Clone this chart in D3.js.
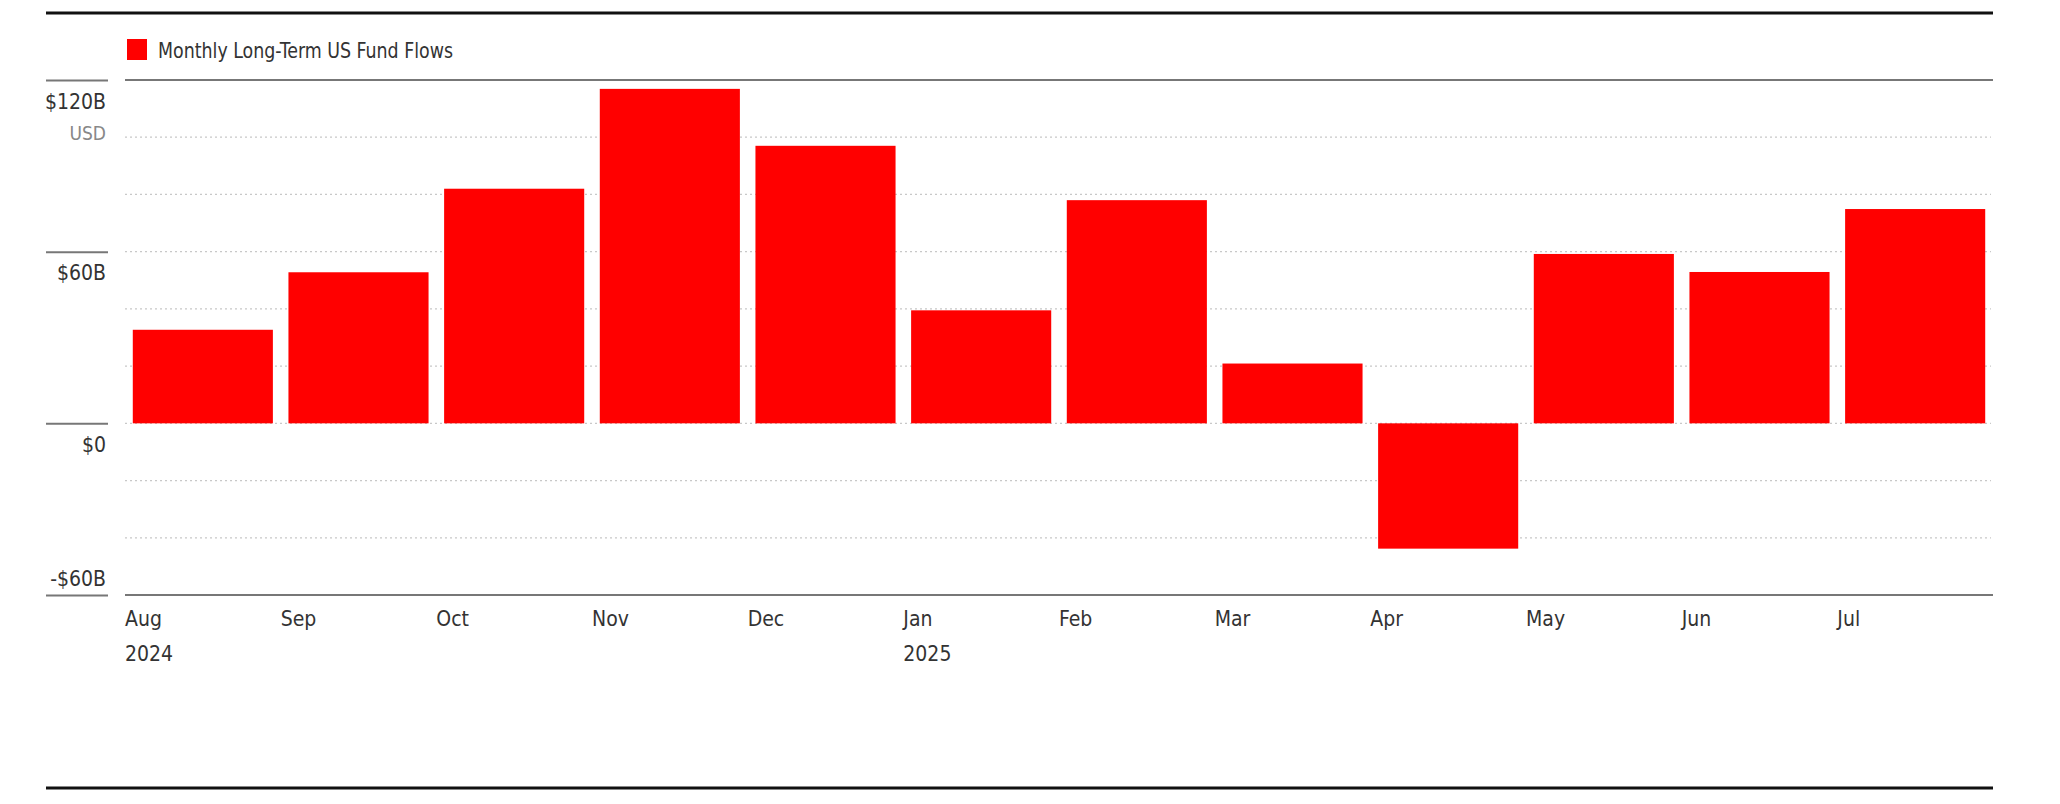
<!DOCTYPE html>
<html>
<head>
<meta charset="utf-8">
<script src="https://cdn.jsdelivr.net/npm/d3@7"></script>
<style>
  html, body { margin: 0; padding: 0; background: #fff; }
  svg { display: block; }
  text { font-family: "Liberation Sans Narrow", "DejaVu Sans Condensed", "Roboto", sans-serif; }
</style>
</head>
<body>
<script>
// ---- data ----
const months = ["Aug", "Sep", "Oct", "Nov", "Dec", "Jan", "Feb", "Mar", "Apr", "May", "Jun", "Jul"];
const yearLabels = ["2024", "", "", "", "", "2025", "", "", "", "", "", ""];
const flows = [32.7, 52.8, 82.0, 116.9, 97.0, 39.5, 78.0, 20.9, -43.8, 59.2, 52.9, 74.9];
const seriesName = "Monthly Long-Term US Fund Flows";
const yTickValues = [120, 60, 0, -60];
const yTickLabels = ["$120B", "$60B", "$0", "-$60B"];
const gridValues = [100, 80, 60, 40, 20, 0, -20, -40];
const unitLabel = "USD";

// ---- layout ----
const W = 2060, H = 804;
const plotLeft = 125, plotRight = 1993, plotTop = 80, plotBottom = 595;
const fontSize = 21;

const svg = d3.select("body").append("svg").attr("width", W).attr("height", H);

const x = d3.scaleBand().domain(months).range([plotLeft, plotRight])
  .paddingInner(0.1).paddingOuter(0.05);
const y = d3.scaleLinear().domain([-60, 120]).range([plotBottom, plotTop]);

// header / footer rules
svg.append("line").attr("x1", 46).attr("x2", 1993).attr("y1", 13).attr("y2", 13)
  .attr("stroke", "#111").attr("stroke-width", 3);
svg.append("line").attr("x1", 46).attr("x2", 1993).attr("y1", 788).attr("y2", 788)
  .attr("stroke", "#111").attr("stroke-width", 3);

// legend
svg.append("rect").attr("x", 127).attr("y", 39).attr("width", 20).attr("height", 21).attr("fill", "#ff0000");
svg.append("text").attr("x", 158).attr("y", 50).attr("dominant-baseline", "central")
  .attr("font-size", 22).attr("fill", "#333")
  .attr("textLength", 295).attr("lengthAdjust", "spacingAndGlyphs")
  .text(seriesName);

// dotted gridlines
svg.append("g").selectAll("line").data(gridValues).join("line")
  .attr("x1", plotLeft).attr("x2", plotRight - 2)
  .attr("y1", d => y(d)).attr("y2", d => y(d))
  .attr("stroke", "#c8c8c8").attr("stroke-width", 1.3).attr("stroke-dasharray", "2,3");

// solid top / bottom lines of plot
[120, -60].forEach(v => {
  svg.append("line").attr("x1", plotLeft).attr("x2", plotRight)
    .attr("y1", y(v)).attr("y2", y(v)).attr("stroke", "#777").attr("stroke-width", 2);
});

// left y-axis: short tick rules and labels
const yAxis = d3.axisLeft(y).tickValues(yTickValues)
  .tickSize(62).tickFormat((d, i) => yTickLabels[i]);
const gy = svg.append("g").attr("transform", `translate(${108},0)`).call(yAxis);
gy.select(".domain").remove();
gy.selectAll(".tick line").attr("stroke", "#777").attr("stroke-width", 2);
gy.selectAll(".tick text")
  .attr("x", -2)
  .attr("dy", null)
  .attr("y", d => d === -60 ? -17 : 21)
  .attr("dominant-baseline", "central")
  .attr("text-anchor", "end")
  .attr("font-size", fontSize)
  .attr("fill", "#333");
svg.append("text").attr("x", 106).attr("y", y(120) + 53).attr("dominant-baseline", "central")
  .attr("text-anchor", "end").attr("font-size", 19).attr("fill", "#888").text(unitLabel);

// bars
svg.append("g").selectAll("rect").data(flows).join("rect")
  .attr("x", (d, i) => x(months[i]))
  .attr("width", x.bandwidth())
  .attr("y", d => y(Math.max(0, d)))
  .attr("height", d => Math.abs(y(d) - y(0)))
  .attr("fill", "#ff0000");

// x axis labels (left-aligned at each month slot start)
const off = x.bandwidth() / 2 + x.step() * x.paddingOuter();
const xAxis = d3.axisBottom(x).tickSize(0);
const gx = svg.append("g").attr("transform", `translate(0,${plotBottom})`).call(xAxis);
gx.select(".domain").remove();
gx.selectAll(".tick text")
  .attr("text-anchor", "start")
  .attr("x", -off)
  .attr("y", 24)
  .attr("dy", null)
  .attr("dominant-baseline", "central")
  .attr("font-size", fontSize)
  .attr("fill", "#333");
gx.selectAll(".tick").append("text")
  .attr("text-anchor", "start")
  .attr("x", -off)
  .attr("y", 59)
  .attr("dominant-baseline", "central")
  .attr("font-size", fontSize)
  .attr("fill", "#333")
  .text((d, i) => yearLabels[i]);
</script>
</body>
</html>
